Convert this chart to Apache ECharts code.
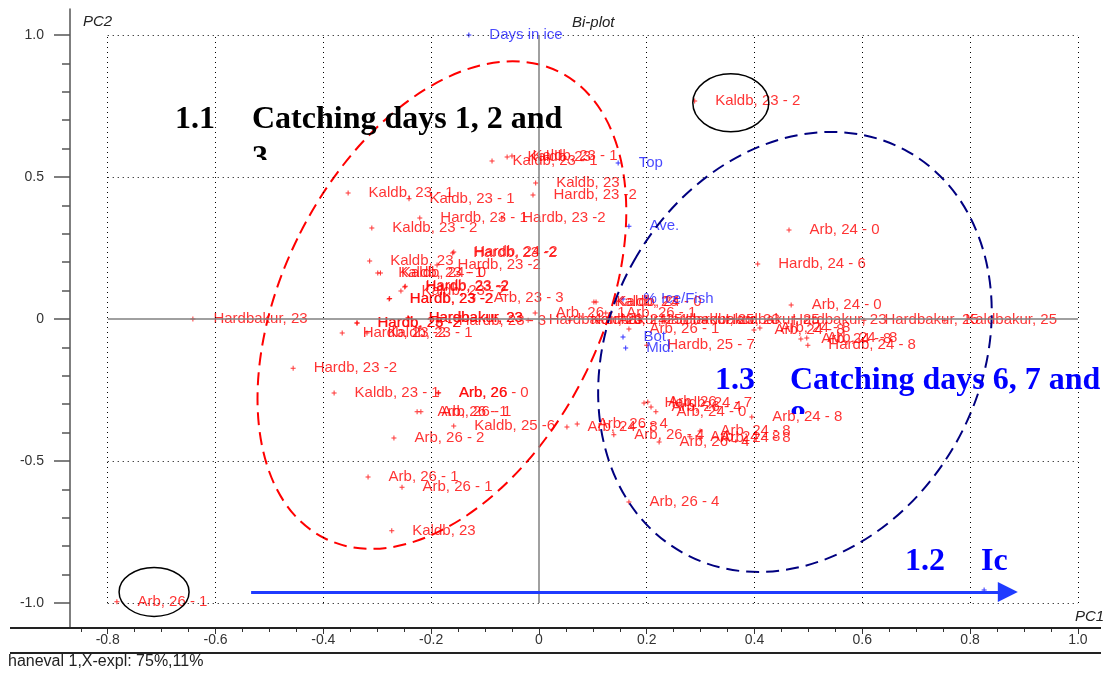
<!DOCTYPE html>
<html><head><meta charset="utf-8">
<script src="https://cdn.jsdelivr.net/npm/echarts@6/dist/echarts.min.js"></script>
<style>html,body{margin:0;padding:0;background:#fff}#c{width:1109px;height:673px}</style>
</head><body><div id="c"></div>
<script>
// ---------- axis ticks ----------
const xTicks = [-0.8, -0.6, -0.4, -0.2, 0, 0.2, 0.4, 0.6, 0.8, 1.0];
const xTickLabels = ['-0.8', '-0.6', '-0.4', '-0.2', '0', '0.2', '0.4', '0.6', '0.8', '1.0'];
const xMinorTicks = [-0.85, -0.75, -0.7, -0.65, -0.55, -0.5, -0.45, -0.35, -0.3, -0.25, -0.15, -0.1, -0.05,
  0.05, 0.1, 0.15, 0.25, 0.3, 0.35, 0.45, 0.5, 0.55, 0.65, 0.7, 0.75, 0.85, 0.9, 0.95];
const yTicks = [1.0, 0.5, 0, -0.5, -1.0];
const yTickLabels = ['1.0', '0.5', '0', '-0.5', '-1.0'];
const yMinorTicks = [0.9, 0.8, 0.7, 0.6, 0.4, 0.3, 0.2, 0.1, -0.1, -0.2, -0.3, -0.4, -0.6, -0.7, -0.8, -0.9];

// ---------- samples (scores) ----------
const sampleNames = [
  'Kaldb, 23 - 2', 'Kaldb, 23 - 1', 'Kaldb, 23', 'Kaldb, 23 - 1', 'Kaldb, 23', 'Hardb, 23 -2',
  'Kaldb, 23 - 1', 'Kaldb, 23 - 1', 'Hardb, 23 - 1', 'Hardb, 23 -2', 'Kaldb, 23 - 2', 'Hardb, 23 -2',
  'Hardb, 24 -2', 'Kaldb, 23', 'Hardb, 23 -2', 'Kaldb, 23 - 1', 'Kaldb, 24 - 0', 'Hardb, 23 -2',
  'Hardb, 23 -2', 'Kaldb, 23 - 2', 'Hardb, 23 -2', 'Hardb, 23 -2', 'Arb, 23 - 3', 'Hardbakur, 23',
  'Hardb, 23 -2', 'Hardb, 26 -2', 'Hardbakur, 23', 'Hardbakur, 23', 'Hardb, 23 - 3', 'Hardb, 23 -2',
  'Kaldb, 23 - 1', 'Hardb, 23 -2', 'Kaldb, 23 - 1', 'Arb, 26 - 0', 'Arb, 26', 'Arb, 26 - 1',
  'Arb, 26 - 1', 'Kaldb, 25 -6', 'Arb, 26 - 2', 'Arb, 26 - 1', 'Arb, 26 - 1', 'Kaldb, 23',
  'Arb, 26 - 1', 'Arb, 26 - 1', 'Arb, 26 - 1', 'Kaldb, 23', 'Kaldb, 24 - 0', 'Arb, 26 - 1',
  'Hardb, 25 - 7', 'Hardbakur, 23', 'Kaldbakur, 25', 'Arb, 24 - 1', 'Hardbakur, 25', 'Hardbakur, 23',
  'Hardbakur, 25', 'Hardbakur, 23', 'Hardbakur, 25', 'Kaldbakur, 25', 'Arb, 24 - 0', 'Hardb, 24 - 6',
  'Arb, 24 - 0', 'Arb, 24 - 8', 'Arb, 24 - 8', 'Arb, 24 - 8', 'Arb, 24 - 8', 'Hardb, 24 - 8',
  'Hardb, 24 - 7', 'Arb, 26', 'Arb, 26 - 4', 'Arb, 24 - 0', 'Arb, 24 - 8', 'Arb, 26 - 4',
  'Arb, 26 - 4', 'Arb, 26 - 4', 'Arb, 24 - 8', 'Arb, 24 - 8', 'Arb, 24 - 8', 'Arb, 24 - 8',
  'Arb, 26 - 4'
];
const sampleX = [
  0.289, -0.087, -0.059, -0.050, -0.006, -0.011,
  -0.354, -0.241, -0.221, -0.069, -0.310, -0.160,
  -0.158, -0.314, -0.189, -0.299, -0.294, -0.249,
  -0.248, -0.256, -0.278, -0.277, -0.122, -0.642,
  -0.338, -0.337, -0.243, -0.242, -0.187, -0.365,
  -0.319, -0.456, -0.380, -0.187, -0.186, -0.226,
  -0.219, -0.158, -0.269, -0.317, -0.254, -0.273,
  -0.783, -0.007, 0.124, 0.102, 0.106, 0.167,
  0.200, -0.020, 0.058, 0.109, 0.187, 0.234,
  0.308, 0.432, 0.603, 0.753, 0.464, 0.406,
  0.468, 0.399, 0.410, 0.486, 0.497, 0.499,
  0.195, 0.202, 0.208, 0.217, 0.052, 0.071,
  0.139, 0.223, 0.299, 0.280, 0.299, 0.395,
  0.167
];
const sampleY = [
  0.768, 0.556, 0.570, 0.574, 0.479, 0.437,
  0.444, 0.423, 0.356, 0.356, 0.320, 0.232,
  0.236, 0.204, 0.190, 0.162, 0.162, 0.113,
  0.115, 0.099, 0.070, 0.072, 0.074, 0.000,
  -0.014, -0.014, 0.004, 0.003, -0.007, -0.049,
  -0.049, -0.173, -0.261, -0.261, -0.260, -0.327,
  -0.327, -0.377, -0.419, -0.556, -0.592, -0.746,
  -0.996, 0.021, 0.021, 0.060, 0.060, -0.035,
  -0.092, -0.004, -0.004, -0.004, -0.004, -0.004,
  -0.004, -0.004, -0.004, -0.004, 0.313, 0.194,
  0.049, -0.039, -0.032, -0.070, -0.067, -0.092,
  -0.296, -0.292, -0.310, -0.327, -0.380, -0.370,
  -0.408, -0.433, -0.394, -0.415, -0.419, -0.345,
  -0.644
];

// ---------- variables (loadings) ----------
const varNames = ['Days in ice', 'Top', 'Ave.', '% Ice/Fish', 'Bot.', 'Mid.', ''];
const varX = [-0.130, 0.147, 0.167, 0.156, 0.156, 0.161, 0.826];
const varY = [1.000, 0.549, 0.327, 0.070, -0.063, -0.102, -0.954];

// ---------- annotations ----------
const ellipseCX = [-0.180, 0.475, 0.356, -0.714];
const ellipseCY = [0.049, -0.116, 0.761, -0.961];
const arrowFrom = [-0.534, -0.961];
const arrowTo = [0.870, -0.961];

// styles / sizes
const ellipseStyle = [
  {rx: 159, ry: 261, rot: -0.468, color: '#ff0000', dash: [13, 7], w: 2},
  {rx: 185, ry: 230, rot: -0.513, color: '#000080', dash: [13, 7], w: 2},
  {rx: 38, ry: 29, rot: 0, color: '#000000', dash: null, w: 1.5},
  {rx: 35, ry: 24.5, rot: 0, color: '#000000', dash: null, w: 1.5}
];
const PLUS = 'path://M2,0H3V2H5V3H3V5H2V3H0V2H2Z';
const SANS = "'Liberation Sans', Arial, Helvetica, sans-serif";
const SERIF = "'Liberation Serif', 'Times New Roman', serif";
const X_MIN = -0.87, X_MAX = 1.041, Y_MIN = -1.088, Y_MAX = 1.0915;

function lab(ticks, labels) {
  return v => { for (let i = 0; i < ticks.length; i++) if (Math.abs(ticks[i] - v) < 1e-9) return labels[i]; return ''; };
}

const gridLines = [];
xTicks.forEach(v => { if (v !== 0) gridLines.push([{coord: [v, -1]}, {coord: [v, 1]}]); });
yTicks.forEach(v => { if (v !== 0) gridLines.push([{coord: [-0.8, v]}, {coord: [1.0, v]}]); });
const zeroLines = [
  [{coord: [0, -1]}, {coord: [0, 1]}],
  [{coord: [-0.8, 0]}, {coord: [1.0, 0]}]
];

const chart = echarts.init(document.getElementById('c'));
const axisCommonX = {type: 'value', min: X_MIN, max: X_MAX, position: 'bottom', splitLine: {show: false}};
const axisCommonY = {type: 'value', min: Y_MIN, max: Y_MAX, position: 'left', splitLine: {show: false}};

chart.setOption({
  animation: false,
  backgroundColor: '#ffffff',
  grid: {left: 70, right: 9, top: 9, bottom: 45, containLabel: false},
  xAxis: [
    Object.assign({}, axisCommonX, {
      axisLine: {show: false, onZero: false},
      axisTick: {show: true, customValues: xTicks, length: 6, lineStyle: {color: '#333', width: 1}},
      axisLabel: {customValues: xTicks, formatter: lab(xTicks, xTickLabels), margin: 5, fontSize: 14, color: '#333', fontFamily: SANS}
    }),
    Object.assign({}, axisCommonX, {
      axisLine: {show: false, onZero: false},
      axisTick: {show: true, customValues: xMinorTicks, length: 4, lineStyle: {color: '#333', width: 1}},
      axisLabel: {show: false}
    })
  ],
  yAxis: [
    Object.assign({}, axisCommonY, {
      axisLine: {show: true, onZero: false, lineStyle: {color: '#555', width: 1.5}},
      axisTick: {show: true, customValues: yTicks, length: 16, lineStyle: {color: '#555', width: 1.5}},
      axisLabel: {customValues: yTicks, formatter: lab(yTicks, yTickLabels), margin: 26, fontSize: 14, color: '#333', fontFamily: SANS}
    }),
    Object.assign({}, axisCommonY, {
      axisLine: {show: false, onZero: false},
      axisTick: {show: true, customValues: yMinorTicks, length: 8, lineStyle: {color: '#555', width: 1.5}},
      axisLabel: {show: false}
    })
  ],
  series: [
    {
      type: 'scatter', name: 'grid', xAxisIndex: 0, yAxisIndex: 0, data: [], silent: true, z: 1,
      markLine: {
        silent: true, symbol: ['none', 'none'], label: {show: false}, animation: false,
        lineStyle: {color: '#000', width: 1, type: [1, 4]},
        data: gridLines
      }
    },
    {
      type: 'scatter', name: 'zero', xAxisIndex: 0, yAxisIndex: 0, data: [], silent: true, z: 1,
      markLine: {
        silent: true, symbol: ['none', 'none'], label: {show: false}, animation: false,
        lineStyle: {color: '#808080', width: 1.5, type: 'solid'},
        data: zeroLines
      }
    },
    {
      type: 'scatter', name: 'samples', xAxisIndex: 0, yAxisIndex: 0, z: 3,
      symbol: PLUS, symbolSize: 5,
      itemStyle: {color: '#ff0000'},
      label: {show: true, position: 'right', distance: 18, formatter: '{b}', color: '#ff0000', fontSize: 15, fontFamily: SANS},
      labelLayout: {hideOverlap: false},
      data: sampleX.map((x, i) => ({name: sampleNames[i], value: [x, sampleY[i]]}))
    },
    {
      type: 'scatter', name: 'variables', xAxisIndex: 0, yAxisIndex: 0, z: 3,
      symbol: PLUS, symbolSize: 5,
      itemStyle: {color: '#0000ff'},
      label: {show: true, position: 'right', distance: 18, formatter: '{b}', color: '#1a1aff', fontSize: 15, fontFamily: SANS},
      data: varX.map((x, i) => ({name: varNames[i], value: [x, varY[i]]}))
    },
    {
      type: 'custom', name: 'ellipses', xAxisIndex: 0, yAxisIndex: 0, z: 4, silent: true,
      renderItem: (params, api) => {
        const s = ellipseStyle[params.dataIndex];
        const c = api.coord([api.value(0), api.value(1)]);
        return {
          type: 'ellipse', x: c[0], y: c[1], rotation: s.rot,
          shape: {cx: 0, cy: 0, rx: s.rx, ry: s.ry},
          style: {fill: 'none', stroke: s.color, lineWidth: s.w, lineDash: s.dash}
        };
      },
      data: ellipseCX.map((x, i) => [x, ellipseCY[i]])
    },
    {
      type: 'scatter', name: 'arrow', xAxisIndex: 0, yAxisIndex: 0, data: [], silent: true, z: 4,
      markLine: {
        silent: true, symbol: ['none', 'triangle'], symbolSize: 20, label: {show: false}, animation: false,
        lineStyle: {color: '#1f3bff', width: 3, type: 'solid'},
        itemStyle: {color: '#1f3bff'},
        data: [[{coord: arrowFrom}, {coord: arrowTo}]]
      }
    }
  ],
  graphic: [
    {type: 'line', z: 5, shape: {x1: 10, y1: 628, x2: 1101, y2: 628}, style: {stroke: '#222', lineWidth: 2}},
    {type: 'line', z: 5, shape: {x1: 10, y1: 653, x2: 1101, y2: 653}, style: {stroke: '#222', lineWidth: 2}},
    {type: 'text', z: 5, x: 83, y: 22, style: {text: 'PC2', font: 'italic 15px ' + SANS, fill: '#222', verticalAlign: 'middle'}},
    {type: 'text', z: 5, x: 572, y: 23, style: {text: 'Bi-plot', font: 'italic 15px ' + SANS, fill: '#222', verticalAlign: 'middle'}},
    {type: 'text', z: 5, x: 1075, y: 617, style: {text: 'PC1', font: 'italic 15px ' + SANS, fill: '#222', verticalAlign: 'middle'}},
    {type: 'text', z: 5, x: 8, y: 662, style: {text: 'haneval 1,X-expl: 75%,11%', font: '16px ' + SANS, fill: '#222', verticalAlign: 'middle'}},
    // clipped second lines of the text boxes
    {type: 'text', z: 0, x: 252, y: 159, style: {text: '3', font: 'bold 32px ' + SERIF, fill: '#000', verticalAlign: 'middle'}},
    {type: 'rect', z: 0.5, shape: {x: 245, y: 160, width: 45, height: 14}, style: {fill: '#fff'}},
    {type: 'text', z: 0, x: 790, y: 419, style: {text: '8', font: 'bold 32px ' + SERIF, fill: '#0000ff', verticalAlign: 'middle'}},
    {type: 'rect', z: 0.5, shape: {x: 785, y: 414, width: 40, height: 22}, style: {fill: '#fff'}},
    // headings
    {type: 'text', z: 6, x: 175, y: 120, style: {text: '1.1', font: 'bold 32px ' + SERIF, fill: '#000', verticalAlign: 'middle'}},
    {type: 'text', z: 6, x: 252, y: 120, style: {text: 'Catching days 1, 2 and', font: 'bold 32px ' + SERIF, fill: '#000', verticalAlign: 'middle'}},
    {type: 'text', z: 6, x: 715, y: 381, style: {text: '1.3', font: 'bold 32px ' + SERIF, fill: '#0000ff', verticalAlign: 'middle'}},
    {type: 'text', z: 6, x: 790, y: 381, style: {text: 'Catching days 6, 7 and', font: 'bold 32px ' + SERIF, fill: '#0000ff', verticalAlign: 'middle'}},
    {type: 'text', z: 6, x: 905, y: 562, style: {text: '1.2', font: 'bold 32px ' + SERIF, fill: '#0000ff', verticalAlign: 'middle'}},
    {type: 'text', z: 6, x: 981, y: 562, style: {text: 'Ic', font: 'bold 32px ' + SERIF, fill: '#0000ff', verticalAlign: 'middle'}}
  ]
});
</script>
</body></html>
